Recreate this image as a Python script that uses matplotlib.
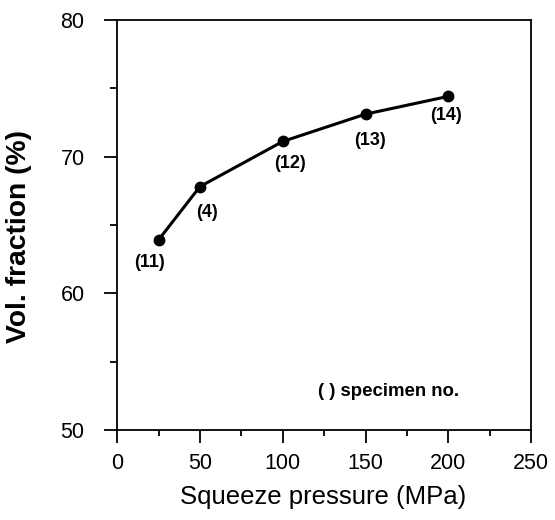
import matplotlib.pyplot as plt
from matplotlib.ticker import MultipleLocator

plt.rcParams['font.family'] = ['Liberation Sans', 'DejaVu Sans']

pressure = [25, 50, 100, 150, 200]
vol_fraction = [63.9, 67.8, 71.1, 73.1, 74.4]
specimen = ['(11)', '(4)', '(12)', '(13)', '(14)']
# label offsets in points relative to each marker
offsets = [(-6.5, -16), (5, -19), (5, -15.5), (3, -19), (-2, -13.5)]

fig = plt.figure(figsize=(5.55, 5.2), dpi=100)
ax = fig.add_axes([0.211, 0.173, 0.746, 0.789])

ax.plot(pressure, vol_fraction, color='black', lw=2.2, marker='o', ms=7.5)

for x, y, s, off in zip(pressure, vol_fraction, specimen, offsets):
    ax.annotate(s, (x, y), xytext=off, textcoords='offset points',
                ha='center', va='center', fontsize=13, fontweight='bold')

ax.text(164, 52.8, '( ) specimen no.', ha='center', va='center',
        fontsize=13.4, fontweight='bold')

ax.set_xlim(0, 250)
ax.set_ylim(50, 80)
ax.xaxis.set_major_locator(MultipleLocator(50))
ax.xaxis.set_minor_locator(MultipleLocator(25))
ax.yaxis.set_major_locator(MultipleLocator(10))
ax.yaxis.set_minor_locator(MultipleLocator(5))
ax.tick_params(which='major', direction='out', length=9.4, width=1.3,
               labelsize=15.5)
ax.tick_params(axis='x', which='major', pad=7)
ax.tick_params(axis='y', which='major', pad=14)
ax.tick_params(axis='x', which='minor', direction='out', length=4, width=1.3)
ax.tick_params(axis='y', which='minor', direction='out', length=5, width=1.3)
for sp in ax.spines.values():
    sp.set_linewidth(1.3)

ax.set_xlabel('Squeeze pressure (MPa)', fontsize=18.5)
ax.set_ylabel('Vol. fraction (%)', fontsize=20.3, fontweight='bold')
ax.xaxis.set_label_coords(0.498, -0.133)
ax.yaxis.set_label_coords(-0.205, 0.471)

fig.savefig('out.png', dpi=100)
